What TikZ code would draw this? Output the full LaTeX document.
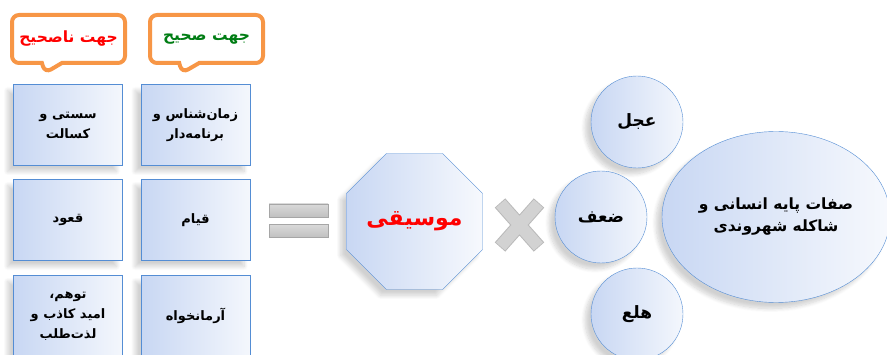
\documentclass[tikz,border=0pt]{standalone}
\usepackage{fontspec}
\newfontfamily\farsi[Script=Arabic]{DejaVu Sans}
\TeXXeTstate=1
\usetikzlibrary{shapes.geometric,shapes.callouts,shadows.blur}

\definecolor{boxblue}{RGB}{200,215,243}
\definecolor{boxline}{RGB}{84,141,212}
\definecolor{tagorange}{RGB}{247,150,70}
\definecolor{okgreen}{RGB}{0,125,20}
\definecolor{barfill}{RGB}{192,192,192}

% one line of right-to-left text
\newcommand{\rl}[1]{\beginR #1\endR}

\begin{document}
\begin{tikzpicture}[x=1pt, y=-1pt, outer sep=0pt,
    font=\farsi\bfseries\fontsize{13}{20}\selectfont]
  \tikzstyle{tag}=[
    rectangle callout,
    draw=tagorange,
    line width=4pt,
    rounded corners=7pt,
    fill=white,
    minimum width=113pt,
    minimum height=48pt,
    callout pointer width=20pt,
    inner sep=0pt,
    font=\farsi\bfseries\fontsize{15.5}{18}\selectfont
  ]
  \tikzstyle{soft}=[blur shadow={shadow xshift=-6pt, shadow yshift=-6pt,
    shadow opacity=18, shadow blur steps=8, shadow blur radius=4pt}]
  \tikzstyle{trait}=[
    draw=boxline,
    thin,
    rectangle,
    left color=boxblue,
    right color=white!80!boxblue,
    minimum width=109pt,
    minimum height=81pt,
    align=center,
    soft
  ]
  \tikzstyle{bubble}=[circle, draw=boxline, thin, left color=boxblue,
    right color=white!80!boxblue, minimum size=92pt, inner sep=0pt, soft,
    font=\farsi\bfseries\fontsize{17}{20}\selectfont]
  \tikzstyle{bar}=[rectangle, draw=gray!70, top color=barfill!60, bottom color=barfill,
    minimum width=59pt, minimum height=13pt, inner sep=0pt]
  \useasboundingbox (0,0) rectangle (887,355);

  % headings
  \coordinate (tip1) at (45,73);
  \coordinate (tip2) at (182,73);
  \node[tag, callout absolute pointer={(tip1)}] (wrong) at (68.5,39) {\color{red}\rl{جهت ناصحیح}};
  \node[tag, callout absolute pointer={(tip2)}] (right) at (206.5,39) {\color{okgreen}\rl{جهت صحیح}};

  % the two columns
  \node[trait] (left1) at (68,125) {\rl{سستی و}\\\rl{کسالت}};
  \node[trait] (left2) at (68,220) {\rl{قعود}};
  \node[trait] (left3) at (68,316) {\rl{توهم،}\\\rl{امید کاذب و}\\\rl{لذت‌طلب}};
  \node[trait] (right1) at (195.5,125) {\rl{زمان‌شناس و}\\\rl{برنامه‌دار}};
  \node[trait] (right2) at (195.5,220) {\rl{قیام}};
  \node[trait] (right3) at (195.5,316) {\rl{آرمانخواه}};

  % equals sign
  \node[bar] (eqtop) at (298.5,210.5) {};
  \node[bar] (eqbot) at (298.5,231) {};

  \node[regular polygon, regular polygon sides=8, minimum size=145pt, inner sep=0pt,
    draw=boxline, thin, left color=boxblue, right color=white!85!boxblue, soft,
    font=\farsi\bfseries\fontsize{22}{24}\selectfont] (music) at (414.5,221.5)
    {\color{red}\rl{موسیقی}};

  % times sign
  \draw[line width=14pt, draw=gray!55] (500,203) -- (539,247) (539,203) -- (500,247);
  \draw[line width=12pt, draw=gray!35] (500.6,203.6) -- (538.4,246.4) (538.4,203.6) -- (500.6,246.4);

  \node[bubble] (haste) at (637,122) {\rl{عجل}};
  \node[bubble] (weak) at (601,217) {\rl{ضعف}};
  \node[bubble] (fear) at (637,314) {\rl{هلع}};
  \node[ellipse, draw=boxline, thin, left color=boxblue, right color=white!85!boxblue,
    minimum width=228pt, minimum height=171pt, inner sep=0pt, align=center, soft,
    font=\farsi\bfseries\fontsize{15.5}{22}\selectfont] (base) at (776,217)
    {\rl{صفات پایه انسانی و}\\\rl{شاکله شهروندی}};
\end{tikzpicture}
\end{document}
